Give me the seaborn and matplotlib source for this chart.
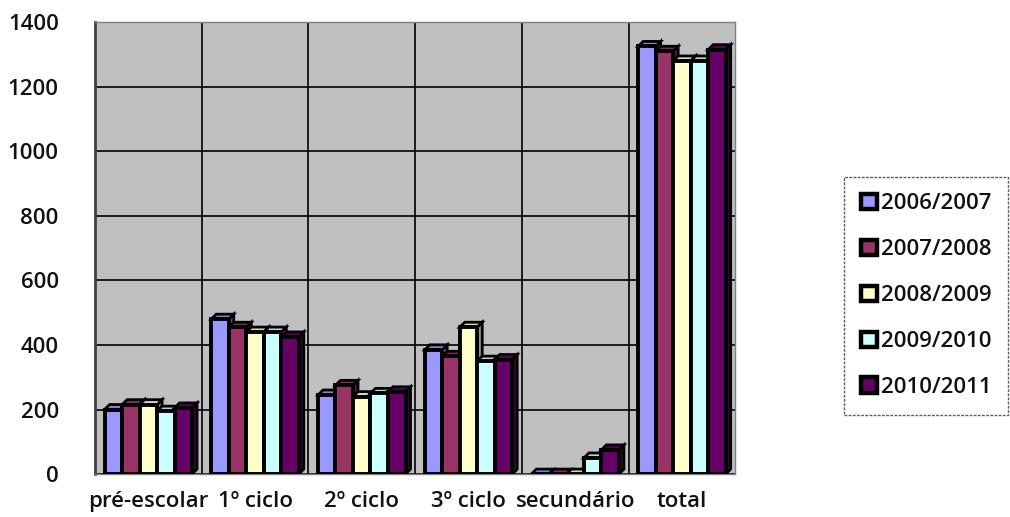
import numpy as np
import pandas as pd
import matplotlib
matplotlib.use("Agg")
import matplotlib.pyplot as plt
from matplotlib.patches import Polygon, Patch
import seaborn as sns

categories = ["pré-escolar", "1º ciclo", "2º ciclo", "3º ciclo", "secundário", "total"]
years = ["2006/2007", "2007/2008", "2008/2009", "2009/2010", "2010/2011"]
v_2006 = [200, 480, 245, 385, 0, 1325]
v_2007 = [215, 455, 275, 365, 0, 1310]
v_2008 = [215, 440, 240, 455, 0, 1280]
v_2009 = [195, 440, 250, 350, 50, 1280]
v_2010 = [205, 425, 255, 355, 75, 1315]
palette = ["#9999FF", "#993366", "#FFFFCC", "#CCFFFF", "#660066"]

df = pd.DataFrame({
    "categoria": categories * 5,
    "ano": [y for y in years for _ in categories],
    "valor": v_2006 + v_2007 + v_2008 + v_2009 + v_2010,
})

sns.set_theme(style="white")
plt.rcParams["font.family"] = ["Open Sans", "DejaVu Sans"]

fig = plt.figure(figsize=(10.10, 5.17), dpi=100)
ax = fig.add_axes([0.094, 0.083, 0.634, 0.874])
ax.set_facecolor("#C0C0C0")

sns.barplot(data=df, x="categoria", y="valor", hue="ano", palette=palette,
            width=0.82, edgecolor="black", linewidth=2.8, saturation=1,
            legend=False, ax=ax, zorder=3)

ax.set_ylim(0, 1400)
ax.set_xlim(-0.5, len(categories) - 0.5)
ax.set_yticks(range(0, 1401, 200))
ax.yaxis.grid(True, color="black", linewidth=1.2, zorder=0)
for b in np.arange(0.5, len(categories) - 0.5, 1.0):
    ax.axvline(b, color="black", linewidth=1.2, zorder=0)
ax.set_xlabel("")
ax.set_ylabel("")
for s in ax.spines.values():
    s.set_color("#808080")
    s.set_linewidth(1.0)
ax.spines["left"].set_color("#404040")
ax.spines["left"].set_linewidth(2.0)
ax.tick_params(axis="y", length=6, color="black", labelsize=16, pad=20)
ax.tick_params(axis="x", length=0, labelsize=16, pad=12)
for t in ax.get_xticklabels() + ax.get_yticklabels():
    t.set_color("#111111")
    t.set_fontweight("semibold")

# depth faces for each bar (top and right side)
fig.canvas.draw()
px_x = (ax.get_xlim()[1] - ax.get_xlim()[0]) / ax.get_window_extent().width
px_y = (ax.get_ylim()[1] - ax.get_ylim()[0]) / ax.get_window_extent().height
dx, dy = 5 * px_x, 5 * px_y
for p in list(ax.patches):
    x0, w, h = p.get_x(), p.get_width(), p.get_height()
    fc = p.get_facecolor()
    top_c = [c * 0.85 for c in fc[:3]]
    side_c = [c * 0.6 for c in fc[:3]]
    top = Polygon([(x0, h), (x0 + w, h), (x0 + w + dx, h + dy), (x0 + dx, h + dy)],
                  closed=True, facecolor=top_c, edgecolor="black", linewidth=2.0, zorder=2.9)
    side = Polygon([(x0 + w, 0), (x0 + w + dx, dy), (x0 + w + dx, h + dy), (x0 + w, h)],
                   closed=True, facecolor=side_c, edgecolor="black", linewidth=2.0, zorder=2.9)
    ax.add_patch(side)
    ax.add_patch(top)

handles = [Patch(facecolor=c, edgecolor="black", linewidth=3.2) for c in palette]
leg = fig.legend(handles, years, loc="upper left", bbox_to_anchor=(0.836, 0.658),
                 frameon=True, fontsize=16, labelspacing=1.12, handlelength=0.7,
                 handleheight=0.7, handletextpad=0.2, borderpad=0.75, borderaxespad=0,
                 fancybox=False)
frame = leg.get_frame()
frame.set_edgecolor("#333333")
frame.set_linestyle((0, (2, 1)))
frame.set_linewidth(1.0)
for t in leg.get_texts():
    t.set_fontweight("semibold")
    t.set_color("#111111")

fig.savefig("out.png", dpi=100, facecolor="white")
